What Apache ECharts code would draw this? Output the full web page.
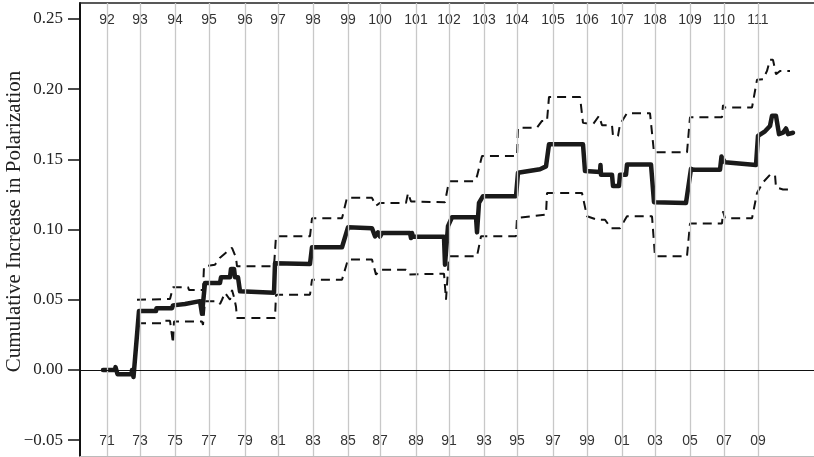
<!DOCTYPE html>
<html>
<head>
<meta charset="utf-8">
<script src="https://cdn.jsdelivr.net/npm/echarts@6/dist/echarts.min.js"></script>
<style>html,body{margin:0;padding:0;background:#fff}#c{width:814px;height:457px}</style>
</head>
<body>
<div id="c"></div>
<script>
// x is a roll-call index (arbitrary units); congress boundaries in that index
var congressStart = [270, 600, 950, 1290, 1650, 1980, 2330, 2680, 3000, 3360, 3690, 4040, 4370, 4730, 5070, 5420, 5750, 6100, 6440, 6780];
var congressLabels = ['92','93','94','95','96','97','98','99','100','101','102','103','104','105','106','107','108','109','110','111'];
var yearLabels = ['71','73','75','77','79','81','83','85','87','89','91','93','95','97','99','01','03','05','07','09'];
var yTicks = [-0.05, 0, 0.05, 0.10, 0.15, 0.20, 0.25];

var mainLine = [[230,0.0],[350,0.0],[355,0.002],[370,0.002],[375,-0.003],[515,-0.003],[520,0.0],[535,-0.005],[555,-0.005],[590,0.042],[760,0.042],[765,0.044],[920,0.044],[930,0.046],[1050,0.047],[1200,0.049],[1220,0.040],[1250,0.062],[1400,0.062],[1410,0.066],[1500,0.066],[1510,0.072],[1540,0.072],[1550,0.066],[1580,0.066],[1600,0.056],[1940,0.055],[1950,0.076],[2300,0.0755],[2320,0.0874],[2620,0.0874],[2680,0.1016],[2920,0.101],[2950,0.0952],[2980,0.098],[3000,0.095],[3020,0.0976],[3300,0.0976],[3310,0.094],[3320,0.0976],[3330,0.0948],[3640,0.0948],[3650,0.075],[3680,0.1024],[3720,0.1088],[3960,0.1088],[3970,0.098],[3990,0.119],[4030,0.1238],[4360,0.1238],[4380,0.1405],[4600,0.143],[4660,0.145],[4690,0.1607],[5030,0.1607],[5050,0.1417],[5200,0.141],[5205,0.146],[5210,0.139],[5320,0.139],[5330,0.131],[5390,0.131],[5400,0.139],[5460,0.139],[5470,0.1464],[5710,0.1464],[5740,0.1195],[6060,0.119],[6110,0.1433],[6140,0.1426],[6400,0.1426],[6415,0.152],[6450,0.148],[6760,0.146],[6780,0.1667],[6850,0.170],[6900,0.1738],[6920,0.181],[6960,0.181],[6990,0.168],[7030,0.169],[7060,0.172],[7080,0.168],[7130,0.169]];

var upperBand = [[570,0.050],[900,0.0505],[930,0.059],[1080,0.059],[1090,0.057],[1230,0.057],[1240,0.0738],[1350,0.075],[1400,0.080],[1450,0.083],[1520,0.087],[1560,0.080],[1570,0.0738],[1940,0.0738],[1960,0.0952],[2300,0.0952],[2320,0.108],[2620,0.108],[2670,0.1226],[2920,0.1226],[2960,0.117],[3000,0.119],[3260,0.119],[3280,0.126],[3310,0.120],[3650,0.1195],[3690,0.1345],[3950,0.1345],[3970,0.138],[4020,0.1524],[4370,0.1524],[4380,0.1726],[4570,0.1726],[4620,0.1774],[4670,0.1774],[4690,0.1945],[5000,0.1945],[5030,0.176],[5130,0.175],[5190,0.181],[5220,0.1743],[5320,0.1743],[5330,0.1667],[5380,0.1667],[5400,0.175],[5470,0.1829],[5700,0.1829],[5740,0.155],[6070,0.155],[6100,0.18],[6420,0.18],[6430,0.1886],[6450,0.1869],[6720,0.1869],[6770,0.2067],[6830,0.207],[6870,0.213],[6900,0.2209],[6930,0.2209],[6960,0.2107],[7000,0.213],[7100,0.213]];

var lowerBand = [[570,0.0333],[840,0.0333],[850,0.035],[900,0.035],[930,0.019],[940,0.0345],[1220,0.0345],[1230,0.032],[1250,0.049],[1380,0.049],[1400,0.047],[1420,0.05],[1450,0.055],[1500,0.05],[1520,0.057],[1540,0.052],[1560,0.045],[1570,0.037],[1950,0.037],[1960,0.0536],[2300,0.0536],[2320,0.0643],[2620,0.0643],[2680,0.0786],[2920,0.0786],[2960,0.0679],[3000,0.0714],[3260,0.0714],[3290,0.068],[3310,0.0686],[3640,0.0686],[3660,0.05],[3690,0.081],[3970,0.081],[4010,0.0952],[4360,0.0952],[4370,0.1083],[4660,0.1107],[4670,0.126],[5020,0.126],[5070,0.1095],[5170,0.107],[5250,0.107],[5310,0.101],[5400,0.101],[5470,0.1095],[5720,0.1095],[5750,0.081],[6070,0.081],[6100,0.1043],[6420,0.1043],[6430,0.113],[6450,0.108],[6720,0.108],[6770,0.126],[6830,0.1336],[6900,0.139],[6950,0.139],[6960,0.13],[7030,0.1286],[7120,0.1286]];

var chart = echarts.init(document.getElementById('c'), null, {renderer: 'canvas'});
var sansLabel = {fontFamily: 'Liberation Sans', fontSize: 14, color: '#333'};
var option = {
  animation: false,
  grid: {left: 80, right: 0, top: 3, bottom: 1, containLabel: false, outerBoundsMode: 'none'},
  xAxis: [{
    type: 'value', position: 'bottom', min: 0, max: 7340,
    axisLine: {show: true, onZero: false, lineStyle: {color: '#bbbbbb', width: 1}},
    axisTick: {show: false}, splitLine: {show: false},
    axisLabel: Object.assign({inside: true, margin: 8, customValues: congressStart,
      formatter: function (v) { var i = congressStart.indexOf(v); return i >= 0 ? yearLabels[i] : ''; }}, sansLabel)
  }, {
    type: 'value', position: 'top', min: 0, max: 7340,
    axisLine: {show: true, onZero: false, lineStyle: {color: '#222', width: 1.5}},
    axisTick: {show: false}, splitLine: {show: false},
    axisLabel: Object.assign({inside: true, margin: 10, customValues: congressStart,
      formatter: function (v) { var i = congressStart.indexOf(v); return i >= 0 ? congressLabels[i] : ''; }}, sansLabel)
  }],
  yAxis: {
    type: 'value', min: -0.0613, max: 0.2614,
    name: 'Cumulative Increase in Polarization', nameLocation: 'middle', nameGap: 55, nameRotate: 90,
    nameMoveOverlap: false,
    nameTextStyle: {fontFamily: 'Liberation Serif', fontSize: 21, color: '#222', padding: [0, 0, 0, 16]},
    axisLine: {show: true, onZero: false, lineStyle: {color: '#111', width: 2}},
    axisTick: {show: true, length: 12, customValues: yTicks, lineStyle: {color: '#111', width: 1.5}},
    splitLine: {show: false},
    axisLabel: {customValues: yTicks, margin: 17, fontFamily: 'Liberation Serif', fontSize: 17, color: '#222',
      formatter: function (v) { return (v < 0 ? '\u2212' : '') + Math.abs(v).toFixed(2); }}
  },
  series: [{
    type: 'line', data: [], z: 1, silent: true,
    markLine: {silent: true, symbol: 'none', label: {show: false}, animation: false,
      lineStyle: {color: '#c8c8c8', width: 1.3, type: 'solid'},
      data: congressStart.map(function (v) { return {xAxis: v}; })}
  }, {
    type: 'line', data: [], z: 2, silent: true,
    markLine: {silent: true, symbol: 'none', label: {show: false}, animation: false,
      lineStyle: {color: '#111', width: 1, type: 'solid'},
      data: [{yAxis: 0}]}
  }, {
    name: 'upper', type: 'line', data: upperBand, z: 3, symbol: 'none',
    lineStyle: {color: '#111', width: 2, type: [9, 6]}
  }, {
    name: 'lower', type: 'line', data: lowerBand, z: 3, symbol: 'none',
    lineStyle: {color: '#111', width: 2, type: [9, 6]}
  }, {
    name: 'estimate', type: 'line', data: mainLine, z: 4, symbol: 'none',
    lineStyle: {color: '#1a1a1a', width: 4.5, cap: 'round', join: 'round'}
  }]
};
chart.setOption(option);
</script>
</body>
</html>
